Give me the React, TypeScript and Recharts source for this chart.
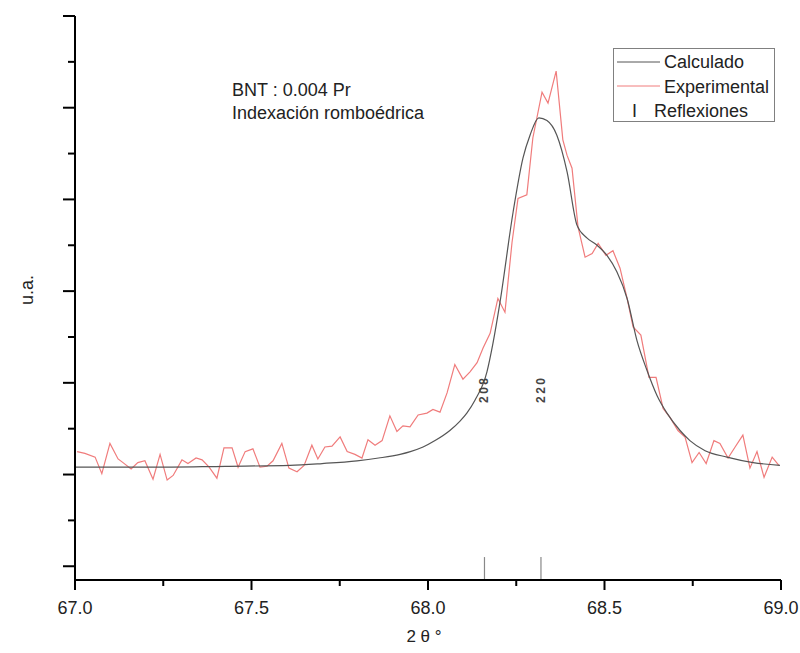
import React from 'react';
import { ComposedChart, Line, XAxis, YAxis, ReferenceLine, ReferenceDot } from 'recharts';

// perfil calculado (2θ, intensidad)
const calcTheta = [
  67.0, 67.212, 67.425, 67.609, 67.7, 67.799, 67.86, 67.921, 67.95, 67.986, 68.02, 68.062, 68.09, 68.11,
  68.133, 68.167, 68.184, 68.204, 68.241, 68.269, 68.289, 68.314, 68.337, 68.365, 68.394, 68.422, 68.45,
  68.479, 68.507, 68.535, 68.564, 68.592, 68.62, 68.649, 68.677, 68.714, 68.742, 68.785, 68.847, 68.921,
  68.997,
];
const calcIntensity = [
  1.08, 1.08, 1.09, 1.1, 1.12, 1.15, 1.18, 1.22, 1.25, 1.3, 1.37, 1.48, 1.58, 1.67,
  1.81, 2.12, 2.43, 2.88, 3.86, 4.45, 4.7, 4.89, 4.86, 4.7, 4.3, 3.72, 3.58,
  3.5, 3.39, 3.21, 2.92, 2.46, 2.14, 1.86, 1.67, 1.48, 1.37, 1.26, 1.19, 1.13,
  1.1,
];

// perfil experimental
const expTheta = [
  67.006, 67.028, 67.057, 67.076, 67.099, 67.122, 67.136, 67.159, 67.178, 67.198,
  67.221, 67.241, 67.261, 67.278, 67.303, 67.32, 67.343, 67.36, 67.38, 67.402,
  67.422, 67.445, 67.462, 67.482, 67.504, 67.524, 67.544, 67.561, 67.586, 67.606,
  67.629, 67.649, 67.671, 67.688, 67.708, 67.728, 67.751, 67.771, 67.793, 67.813,
  67.83, 67.85, 67.87, 67.892, 67.912, 67.929, 67.949, 67.972, 67.997, 68.014,
  68.034, 68.054, 68.076, 68.099, 68.119, 68.139, 68.156, 68.176, 68.198, 68.218,
  68.238, 68.255, 68.28, 68.297, 68.323, 68.34, 68.363, 68.382, 68.394, 68.408,
  68.425, 68.445, 68.465, 68.482, 68.504, 68.524, 68.544, 68.564, 68.581, 68.603,
  68.626, 68.646, 68.666, 68.686, 68.708, 68.728, 68.748, 68.768, 68.788, 68.81,
  68.827, 68.85, 68.87, 68.892, 68.912, 68.932, 68.952, 68.975, 68.994,
];
const expIntensity = [
  1.25, 1.23, 1.19, 1.01, 1.34, 1.17, 1.13, 1.06, 1.13, 1.15,
  0.95, 1.22, 0.94, 0.99, 1.16, 1.12, 1.18, 1.16, 1.08, 0.96,
  1.29, 1.29, 1.08, 1.25, 1.28, 1.08, 1.09, 1.15, 1.34, 1.07,
  1.03, 1.1, 1.32, 1.17, 1.3, 1.31, 1.41, 1.25, 1.22, 1.18,
  1.38, 1.32, 1.37, 1.64, 1.47, 1.53, 1.52, 1.65, 1.67, 1.71,
  1.68, 1.89, 2.2, 2.04, 2.12, 2.22, 2.38, 2.54, 2.92, 2.77,
  3.53, 4.01, 4.05, 4.67, 5.17, 5.05, 5.4, 4.65, 4.48, 4.34,
  3.7, 3.37, 3.41, 3.52, 3.39, 3.44, 3.25, 2.92, 2.61, 2.52,
  2.06, 2.06, 1.72, 1.62, 1.48, 1.41, 1.13, 1.24, 1.12, 1.37,
  1.34, 1.18, 1.3, 1.43, 1.07, 1.25, 0.97, 1.19, 1.1,
];

const reflexiones = [68.16, 68.32];
const reflexionLabels = ['208', '220'];

const xTicks = [67, 67.25, 67.5, 67.75, 68, 68.25, 68.5, 68.75, 69];
const yTicks = [0, 0.5, 1, 1.5, 2, 2.5, 3, 3.5, 4, 4.5, 5, 5.5, 6];

const calcData = calcTheta.map((t, i) => ({ t, v: calcIntensity[i] }));
const expData = expTheta.map((t, i) => ({ t, v: expIntensity[i] }));

const FONT = '"Liberation Sans", Arial, sans-serif';
const RED = '#f07c7c';
const GRAY = '#555';

function XTick({ x, y, payload }: any) {
  const major = Math.abs(payload.value * 2 - Math.round(payload.value * 2)) < 1e-6;
  return (
    <g>
      <line x1={x} x2={x} y1={y} y2={y + (major ? 10 : 6)} stroke="#000" strokeWidth={2} />
      {major && (
        <text x={x} y={y + 34} textAnchor="middle" fontSize={18} fontFamily={FONT} fill="#222">
          {payload.value.toFixed(1)}
        </text>
      )}
    </g>
  );
}

function YTick({ x, y, payload }: any) {
  const major = Number.isInteger(payload.value);
  return <line x1={x - (major ? 12 : 7)} x2={x} y1={y} y2={y} stroke="#000" strokeWidth={2} />;
}

export default function App() {
  return (
    <div style={{ position: 'absolute', left: 0, top: 0, width: 800, height: 653, background: '#fff' }}>
      <ComposedChart width={800} height={653} margin={{ top: 16, right: 19, bottom: 13, left: 55 }}>
        <XAxis
          dataKey="t"
          type="number"
          domain={[67, 69]}
          ticks={xTicks}
          allowDataOverflow
          height={60}
          tickSize={0}
          tickMargin={0}
          tickLine={false}
          tick={(p: any) => <XTick {...p} />}
          axisLine={{ stroke: '#000', strokeWidth: 2 }}
          label={(p: any) => (
            <text
              x={p.viewBox.x + p.viewBox.width / 2 - 4}
              y={p.viewBox.y + 62}
              textAnchor="middle"
              fontSize={17}
              fontFamily={FONT}
              fill="#222"
            >
              2 θ °
            </text>
          )}
        />
        <YAxis
          type="number"
          domain={[-0.15, 6]}
          ticks={yTicks}
          allowDataOverflow
          width={20}
          tickSize={0}
          tickMargin={0}
          tickLine={false}
          tick={(p: any) => <YTick {...p} />}
          axisLine={{ stroke: '#000', strokeWidth: 2 }}
          label={(p: any) => {
            const cx = p.viewBox.x - 28;
            const cy = p.viewBox.y + p.viewBox.height / 2 - 8;
            return (
              <text
                x={cx}
                y={cy}
                transform={`rotate(-90 ${cx} ${cy})`}
                textAnchor="middle"
                dominantBaseline="central"
                fontSize={18}
                fontFamily={FONT}
                fill="#222"
              >
                u.a.
              </text>
            );
          }}
        />
        <Line data={expData} dataKey="v" type="linear" stroke={RED} strokeWidth={1.2} dot={false} isAnimationActive={false} />
        <Line data={calcData} dataKey="v" type="monotone" stroke={GRAY} strokeWidth={1.2} dot={false} isAnimationActive={false} />
        {reflexiones.map((r) => (
          <ReferenceLine key={r} segment={[{ x: r, y: -0.15 }, { x: r, y: 0.1 }]} stroke="#888" strokeWidth={1.2} />
        ))}
        {reflexiones.map((r, i) => (
          <ReferenceDot
            key={'l' + r}
            x={r}
            y={1.93}
            r={0}
            shape={(p: any) => (
              <text
                x={p.cx}
                y={p.cy}
                transform={`rotate(-90 ${p.cx} ${p.cy})`}
                textAnchor="middle"
                dominantBaseline="central"
                fontSize={12}
                fontWeight="bold"
                letterSpacing={2.5}
                fontFamily={FONT}
                fill="#444"
              >
                {reflexionLabels[i]}
              </text>
            )}
          />
        ))}
      </ComposedChart>
      <svg width={800} height={653} style={{ position: 'absolute', left: 0, top: 0, pointerEvents: 'none' }}>
        <g fontFamily={FONT} fontSize={18} fill="#222">
          <text x={232} y={96}>BNT : 0.004 Pr</text>
          <text x={232} y={119}>Indexación romboédrica</text>
          <rect x={613.5} y={48.5} width={161} height={73} fill="#fff" stroke="#808080" strokeWidth={1} />
          <line x1={617} x2={660} y1={62} y2={62} stroke={GRAY} strokeWidth={1} />
          <text x={664} y={68}>Calculado</text>
          <line x1={617} x2={660} y1={86} y2={86} stroke={RED} strokeWidth={1} />
          <text x={664} y={93}>Experimental</text>
          <text x={632} y={117}>I</text>
          <text x={654} y={117}>Reflexiones</text>
        </g>
      </svg>
    </div>
  );
}
